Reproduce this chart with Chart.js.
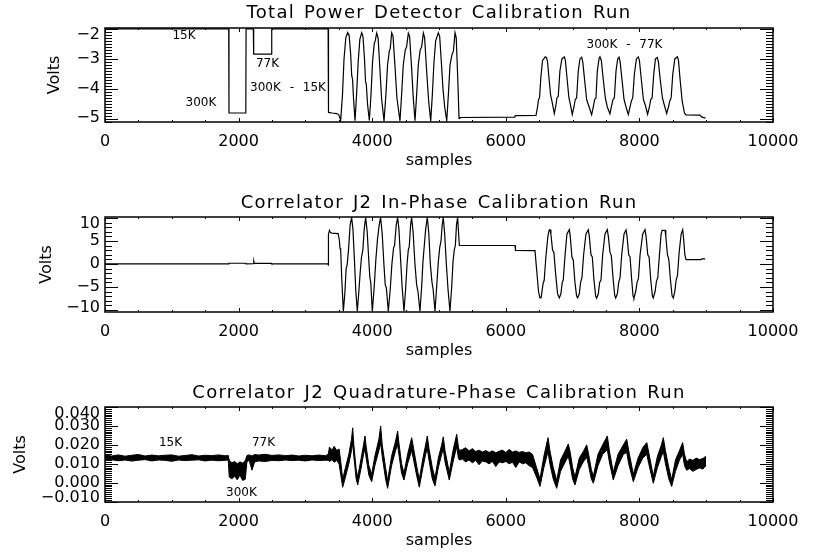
<!DOCTYPE html>
<html>
<head>
<meta charset="utf-8">
<script src="https://cdn.jsdelivr.net/npm/chart.js@4.4.1/dist/chart.umd.min.js"></script>
<style>
html, body { margin: 0; padding: 0; background: #fff; }
#wrap { position: relative; width: 816px; height: 556px; }
canvas { position: absolute; left: 0; }
</style>
</head>
<body>
<div id="wrap">
<canvas id="c1" width="816" height="185" style="top:0px"></canvas>
<canvas id="c2" width="816" height="187" style="top:185px"></canvas>
<canvas id="c3" width="816" height="184" style="top:372px"></canvas>
</div>
<script>
// Calibration run traces: [sample, volts]

var xTicks = [0, 2000, 4000, 6000, 8000, 10000];

// Total power detector
var totalPower = [
    [0, -2.0], [1852, -2.0], [1856, -4.8], [2108, -4.8], [2112, -2.0], [2220, -2.0], [2226, -2.84], [2490, -2.84], [2496, -2.0],
    [3340, -2.0], [3346, -4.78], [3400, -4.8], [3470, -4.82], [3500, -4.86], [3515, -4.95],
    [3528, -5.05], [3555, -4.2], [3578, -3.0], [3605, -2.3], [3633, -2.12], [3655, -2.22], [3678, -2.85], [3693, -3.55], [3706, -3.68], [3720, -4.3],
    [3743, -5.06], [3768, -4.1], [3790, -3.1], [3815, -2.35], [3843, -2.13], [3862, -2.25], [3885, -3.0], [3900, -3.75], [3912, -3.85], [3930, -4.5],
    [3957, -5.05], [3982, -4.2], [4005, -3.1], [4030, -2.5], [4045, -2.4], [4067, -2.14], [4088, -2.3], [4112, -3.2], [4140, -4.3],
    [4177, -5.07], [4205, -4.2], [4230, -3.2], [4255, -2.75], [4270, -2.65], [4292, -2.13], [4312, -2.25], [4340, -3.2], [4370, -4.3],
    [4416, -5.06], [4440, -4.2], [4465, -3.2], [4495, -2.7], [4515, -2.6], [4541, -2.14], [4560, -2.25], [4590, -3.3], [4615, -4.3],
    [4641, -5.06], [4665, -4.2], [4690, -3.2], [4718, -2.7], [4740, -2.6], [4766, -2.14], [4785, -2.3], [4812, -3.3], [4845, -4.4],
    [4876, -5.07], [4900, -4.2], [4925, -3.1], [4950, -2.4], [4990, -2.13], [5010, -2.25], [5035, -3.1], [5060, -4.0], [5085, -4.6],
    [5116, -5.06], [5140, -4.2], [5165, -3.2], [5195, -2.85], [5215, -2.75], [5240, -2.13], [5258, -2.3], [5280, -3.6], [5300, -4.98], [5312, -4.95],
    [6135, -4.94], [6142, -4.89], [6452, -4.88],
    [6475, -4.6], [6490, -4.35], [6505, -4.3], [6525, -3.6], [6550, -3.05], [6590, -2.93], [6610, -2.96], [6625, -3.1], [6645, -3.6], [6670, -4.2], [6690, -4.4],
    [6726, -4.82], [6750, -4.55], [6765, -4.3], [6785, -4.25], [6810, -3.4], [6840, -3.0], [6876, -2.93], [6892, -3.05], [6915, -3.6], [6945, -4.3], [6965, -4.5],
    [6995, -4.85], [7020, -4.6], [7040, -4.35], [7060, -4.3], [7085, -3.4], [7110, -3.0], [7136, -2.94], [7152, -3.1], [7180, -3.7], [7210, -4.35], [7240, -4.55],
    [7285, -4.86], [7310, -4.6], [7330, -4.35], [7350, -4.3], [7370, -3.4], [7395, -3.0], [7410, -2.93], [7430, -3.05], [7455, -3.6], [7490, -4.3], [7520, -4.6],
    [7559, -4.83], [7585, -4.55], [7605, -4.35], [7625, -4.3], [7650, -3.4], [7675, -3.0], [7695, -2.94], [7712, -3.1], [7740, -3.7], [7770, -4.35], [7800, -4.6],
    [7834, -4.85], [7860, -4.6], [7880, -4.4], [7900, -4.3], [7925, -3.5], [7955, -3.0], [7983, -2.93], [8000, -3.05], [8025, -3.6], [8060, -4.35], [8090, -4.55],
    [8123, -4.84], [8150, -4.6], [8170, -4.35], [8190, -4.3], [8215, -3.5], [8240, -3.0], [8268, -2.95], [8285, -3.1], [8310, -3.65], [8345, -4.3], [8375, -4.55],
    [8408, -4.82], [8435, -4.6], [8455, -4.4], [8475, -4.3], [8500, -3.5], [8530, -3.0], [8568, -2.93], [8585, -3.05], [8610, -3.7], [8640, -4.4], [8675, -4.8],
    [8697, -4.86], [8907, -4.87], [8930, -4.93], [8990, -4.97]
];
var tpTicks = [-2, -3, -4, -5];
var tpNotes = [['15K', 1183, -2.24], ['77K', 2433, -3.17], ['300K', 1437, -4.47], ['300K - 15K', 2740, -3.97], ['300K - 77K', 7777, -2.52]];

// Correlator J2 in-phase
var inPhase = [
    [0, 0], [1850, 0], [1856, 0.15], [2108, 0.15], [2112, 0], [2222, 0.05], [2228, 0.6], [2236, 0.1], [2490, 0.1], [2496, 0],
    [3340, 0], [3343, -0.4], [3347, 6.4], [3360, 7.3], [3372, 6.9], [3395, 6.7], [3490, 6.6], [3508, 5.2], [3518, 3.4], [3528, 3.1], [3545, -3.5],
    [3568, -10.3], [3590, -6.5], [3610, -1.0], [3625, -0.2], [3645, 3.0], [3670, 8.5], [3692, 10.1], [3712, 7.5], [3735, 0.5], [3755, -6.0],
    [3777, -10.3], [3800, -6.0], [3822, -1.5], [3840, 1.5], [3860, 3.0], [3880, 7.5], [3902, 10.1], [3925, 7.0], [3948, 1.0], [3965, -3.0], [3978, -4.0],
    [4002, -10.3], [4030, -5.0], [4055, 1.0], [4080, 5.5], [4105, 8.5], [4126, 10.1], [4150, 6.5], [4175, 0.0], [4195, -4.5], [4212, -5.2],
    [4241, -10.3], [4270, -5.5], [4295, 0.0], [4320, 3.5], [4335, 4.0], [4360, 8.5], [4381, 10.1], [4400, 7.5], [4425, 1.0], [4448, -5.0],
    [4476, -10.3], [4500, -5.5], [4522, 0.0], [4540, 3.0], [4555, 3.8], [4575, 8.5], [4590, 10.1], [4612, 7.0], [4640, 0.0], [4665, -4.5], [4685, -6.0],
    [4715, -10.3], [4740, -5.0], [4760, 0.5], [4780, 4.0], [4800, 7.5], [4825, 10.1], [4848, 6.5], [4870, 0.0], [4895, -4.0], [4912, -5.5],
    [4940, -10.3], [4965, -5.0], [4990, 0.5], [5010, 3.5], [5030, 5.0], [5048, 8.5], [5064, 10.1], [5085, 6.5], [5110, 0.0], [5135, -5.5],
    [5164, -10.3], [5190, -5.0], [5210, 0.5], [5228, 3.0], [5245, 4.0], [5262, 8.5], [5279, 10.1], [5292, 7.0], [5305, 4.0],
    [6138, 4.0], [6145, 2.95], [6437, 2.9],
    [6460, -1.0], [6490, -6.0], [6512, -7.4], [6530, -7.3], [6555, -4.5], [6575, -3.5], [6600, 1.5], [6630, 6.0], [6650, 7.4], [6662, 7.45], [6675, 6.5], [6700, 3.0], [6720, 2.5], [6745, -2.0], [6775, -6.5],
    [6801, -7.4], [6825, -6.5], [6845, -4.0], [6860, -3.5], [6885, 1.5], [6915, 6.5], [6951, 7.45], [6965, 6.0], [6990, 1.5], [7010, 0.8], [7035, -4.0], [7060, -7.0],
    [7076, -7.4], [7100, -6.5], [7120, -4.0], [7140, -3.0], [7165, 2.0], [7200, 6.5], [7235, 7.4], [7250, 6.0], [7275, 2.0], [7295, 1.5], [7320, -3.5], [7345, -7.0],
    [7360, -7.45], [7385, -6.5], [7405, -4.0], [7425, -3.5], [7450, 2.0], [7485, 6.5], [7520, 7.45], [7535, 6.0], [7560, 2.5], [7580, 1.8], [7605, -3.0], [7630, -6.8],
    [7645, -7.4], [7670, -6.5], [7690, -4.0], [7710, -3.0], [7735, 2.0], [7770, 6.5], [7800, 7.4], [7815, 6.0], [7840, 2.0], [7860, 1.5], [7885, -3.5], [7905, -7.0],
    [7919, -7.4], [7945, -6.0], [7965, -4.0], [7985, -3.2], [8010, 2.0], [8050, 6.5], [8084, 7.45], [8100, 6.0], [8125, 2.0], [8145, 1.5], [8170, -3.5], [8195, -7.0],
    [8208, -7.4], [8235, -6.0], [8255, -3.8], [8275, -3.0], [8300, 2.0], [8325, 6.5], [8340, 7.3], [8385, 7.3], [8395, 6.0], [8420, 2.0], [8440, 1.0], [8465, -3.5], [8490, -7.0],
    [8508, -7.4], [8530, -6.0], [8550, -3.5], [8570, -2.5], [8595, 2.5], [8625, 6.5], [8648, 7.45], [8662, 5.5], [8680, 2.0], [8698, 0.93],
    [8922, 0.93], [8935, 1.1], [8985, 1.1]
];
var ipTicks = [10, 5, 0, -5, -10];

// Correlator J2 quadrature: noisy trace, kept as [sample, upper edge, lower edge]
var quadBand = [
    [0, .0146, .0117], [100, .0141, .0121], [200, .0147, .0116], [300, .0140, .0120], [400, .0145, .0114], [500, .0149, .0119],
    [600, .0141, .0122], [700, .0146, .0115], [800, .0142, .0120], [900, .0145, .0118], [1000, .0147, .0113], [1100, .0140, .0120],
    [1200, .0144, .0117], [1300, .0148, .0119], [1400, .0141, .0121], [1500, .0145, .0115], [1600, .0143, .0119], [1700, .0147, .0116],
    [1800, .0142, .0118], [1845, .0144, .0120],
    [1860, .0118, .0030], [1900, .0105, .0020], [1940, .0112, .0035], [1980, .0100, .0015], [2020, .0110, .0040], [2060, .0104, .0012],
    [2100, .0116, .0018], [2125, .0144, .0112],
    [2160, .0147, .0118], [2200, .0141, .0066], [2240, .0149, .0110], [2300, .0146, .0115], [2400, .0150, .0112], [2500, .0144, .0118],
    [2600, .0147, .0116], [2700, .0143, .0120], [2800, .0146, .0117], [2900, .0141, .0119], [3000, .0145, .0115], [3100, .0142, .0120],
    [3200, .0146, .0117], [3300, .0143, .0119], [3343, .0150, .0118],
    [3360, .0188, .0112], [3400, .0172, .0122], [3430, .0192, .0108], [3470, .0170, .0118], [3505, .0178, .0098], [3530, .0110, .0040],
    [3558, .0018, -.0024], [3600, .0080, .0030], [3650, .0150, .0100], [3690, .0230, .0170], [3708, .0290, .0210], [3725, .0200, .0140], [3760, .0070, .0020],
    [3783, .0030, -.0012], [3830, .0120, .0070], [3870, .0200, .0150], [3892, .0247, .0180], [3910, .0190, .0130], [3950, .0090, .0040],
    [3992, .0045, .0005], [4040, .0140, .0090], [4100, .0230, .0170], [4127, .0300, .0210], [4150, .0200, .0140], [4200, .0080, .0020],
    [4231, .0010, -.0030], [4290, .0140, .0090], [4350, .0220, .0170], [4381, .0273, .0200], [4400, .0210, .0150], [4440, .0100, .0050],
    [4476, .0050, .0014], [4530, .0150, .0100], [4591, .0238, .0170], [4620, .0180, .0120], [4670, .0080, .0030],
    [4705, .0018, -.0024], [4760, .0130, .0080], [4800, .0200, .0150], [4825, .0247, .0180], [4850, .0180, .0120], [4900, .0080, .0020],
    [4940, .0025, -.0017], [4990, .0130, .0080], [5040, .0200, .0150], [5064, .0242, .0180], [5090, .0170, .0110],
    [5154, .0055, .0014], [5210, .0170, .0110], [5265, .0256, .0190], [5290, .0190, .0130], [5305, .0170, .0120],
    [5350, .0175, .0125], [5400, .0185, .0110], [5450, .0168, .0120], [5500, .0180, .0105], [5550, .0165, .0118], [5600, .0172, .0095],
    [5650, .0162, .0115], [5700, .0170, .0110], [5750, .0160, .0100], [5800, .0168, .0112], [5850, .0158, .0085], [5900, .0166, .0110],
    [5950, .0172, .0105], [6000, .0160, .0112], [6050, .0175, .0100], [6100, .0162, .0108], [6150, .0168, .0080], [6200, .0160, .0110],
    [6250, .0165, .0100], [6300, .0158, .0105], [6350, .0162, .0090], [6400, .0150, .0080], [6460, .0080, .0030],
    [6512, .0020, -.0020], [6570, .0140, .0080], [6632, .0238, .0165], [6660, .0170, .0100], [6710, .0080, .0020],
    [6762, .0012, -.0030], [6820, .0120, .0060], [6890, .0170, .0110], [6936, .0205, .0140], [6965, .0160, .0090], [7000, .0080, .0020],
    [7036, .0030, -.0012], [7100, .0130, .0070], [7160, .0165, .0110], [7211, .0200, .0135], [7240, .0150, .0090], [7280, .0070, .0020],
    [7311, .0035, -.0003], [7380, .0150, .0090], [7450, .0200, .0150], [7520, .0247, .0175], [7550, .0170, .0110],
    [7609, .0055, .0014], [7680, .0150, .0090], [7760, .0200, .0150], [7810, .0230, .0160], [7840, .0170, .0100],
    [7909, .0045, .0005], [7980, .0130, .0080], [8050, .0185, .0130], [8110, .0212, .0150], [8140, .0160, .0100],
    [8208, .0035, -.0003], [8270, .0140, .0080], [8330, .0200, .0140], [8358, .0238, .0165], [8390, .0170, .0100], [8440, .0080, .0020],
    [8483, .0015, -.0020], [8540, .0120, .0060], [8600, .0170, .0120], [8648, .0212, .0150], [8675, .0150, .0090],
    [8708, .0110, .0066], [8750, .0125, .0075], [8800, .0118, .0060], [8850, .0130, .0070], [8900, .0122, .0078], [8950, .0128, .0072],
    [8997, .0140, .0090]
];
var qTicks = [0.04, 0.03, 0.02, 0.01, 0, -0.01];
var qNotes = [['15K', 981, 0.0212], ['77K', 2373, 0.0212], ['300K', 2043, -0.0052]];

var FONT = '"DejaVu Sans", sans-serif';

function fmt(v, dec) {
    return (v < 0 ? '\u2212' : '') + Math.abs(v).toFixed(dec);
}

// IDL style box: inward ticks on all four sides, labels, title, annotations
var idlFrame = {
    id: 'idlFrame',
    afterDraw: function (chart, args, o) {
        var ctx = chart.ctx, a = chart.chartArea;
        var xs = chart.scales.x, ys = chart.scales.y;
        ctx.save();
        ctx.strokeStyle = '#000';
        ctx.lineWidth = 1;
        ctx.beginPath();
        for (var v = 0; v <= 10000; v += 500) {
            var len = v % 2000 === 0 ? 4 : 2;
            var px = Math.round(xs.getPixelForValue(v)) + 0.5;
            ctx.moveTo(px, a.bottom); ctx.lineTo(px, a.bottom - len);
            ctx.moveTo(px, a.top); ctx.lineTo(px, a.top + len);
        }
        var k0 = Math.ceil(ys.min / o.minor - 1e-6), k1 = Math.floor(ys.max / o.minor + 1e-6);
        for (var k = k0; k <= k1; k++) {
            var py = Math.round(ys.getPixelForValue(k * o.minor)) + 0.5;
            ctx.moveTo(a.left, py); ctx.lineTo(a.left + 7, py);
            ctx.moveTo(a.right, py); ctx.lineTo(a.right - 7, py);
        }
        o.ticks.forEach(function (t) {
            var py = Math.round(ys.getPixelForValue(t)) + 0.5;
            ctx.moveTo(a.left, py); ctx.lineTo(a.left + 13, py);
            ctx.moveTo(a.right, py); ctx.lineTo(a.right - 13, py);
        });
        ctx.stroke();
        ctx.lineWidth = 1.5;
        ctx.strokeRect(a.left, a.top, a.right - a.left, a.bottom - a.top);

        ctx.fillStyle = '#000';
        ctx.font = '16px ' + FONT;
        ctx.textAlign = 'right';
        ctx.textBaseline = 'middle';
        o.ticks.forEach(function (t) {
            var py = ys.getPixelForValue(t);
            py = Math.min(Math.max(py, a.top + 6.5), a.bottom - 4);
            ctx.fillText(fmt(t, o.dec), 100, py);
        });

        // y title
        ctx.save();
        ctx.translate(o.voltsX, (a.top + a.bottom) / 2);
        ctx.rotate(-Math.PI / 2);
        ctx.textAlign = 'center';
        ctx.fillText('Volts', 0, 0);
        ctx.restore();

        // plot title
        ctx.font = '18px ' + FONT;
        ctx.textAlign = 'center';
        ctx.textBaseline = 'alphabetic';
        ctx.letterSpacing = '1.3px';
        ctx.wordSpacing = '2px';
        ctx.fillText(o.title, (a.left + a.right) / 2, o.titleY);

        // notes at data positions
        ctx.font = '12px ' + FONT;
        ctx.letterSpacing = '0px';
        ctx.wordSpacing = '5px';
        ctx.textBaseline = 'middle';
        (o.notes || []).forEach(function (n) {
            ctx.fillText(n[0], xs.getPixelForValue(n[1]), ys.getPixelForValue(n[2]));
        });
        ctx.restore();
    }
};

function makeChart(id, datasets, yMin, yMax, zone, top, frame) {
    return new Chart(document.getElementById(id), {
        type: 'line',
        data: { datasets: datasets },
        options: {
            responsive: false,
            animation: false,
            devicePixelRatio: 1,
            layout: { padding: { left: 105, right: 43, top: top, bottom: 0 } },
            elements: { point: { radius: 0 }, line: { tension: 0 } },
            plugins: { legend: { display: false }, tooltip: { enabled: false }, idlFrame: frame },
            scales: {
                x: {
                    type: 'linear', min: 0, max: 10000,
                    afterBuildTicks: function (s) { s.ticks = xTicks.map(function (v) { return { value: v }; }); },
                    afterFit: function (s) { s.height = zone; },
                    grid: { display: false, drawTicks: false },
                    border: { display: false },
                    ticks: {
                        padding: 10, color: '#000', maxRotation: 0, autoSkip: false,
                        font: { family: FONT, size: 16 },
                        callback: function (v) { return String(v); }
                    },
                    title: {
                        display: true, text: 'samples', color: '#000',
                        font: { family: FONT, size: 16 },
                        padding: { top: 0, bottom: zone - 48 }
                    }
                },
                y: { display: false, min: yMin, max: yMax }
            }
        },
        plugins: [idlFrame]
    });
}

function lineSet(pts) {
    return {
        data: pts.map(function (p) { return { x: p[0], y: p[1] }; }),
        borderColor: '#000', borderWidth: 1.2, fill: false
    };
}

makeChart('c1', [lineSet(totalPower)], -5.1, -1.97, 63, 28, {
    title: 'Total Power Detector Calibration Run', titleY: 18.3, voltsX: 55,
    ticks: tpTicks, minor: 0.1, dec: 0, notes: tpNotes
});

makeChart('c2', [lineSet(inPhase)], -10.45, 10.2, 60, 32, {
    title: 'Correlator J2 In-Phase Calibration Run', titleY: 23.3, voltsX: 47,
    ticks: ipTicks, minor: 1, dec: 0
});

makeChart('c3', [
    {
        data: quadBand.map(function (p) { return { x: p[0], y: p[1] }; }),
        borderColor: '#000', borderWidth: 1, fill: false
    },
    {
        data: quadBand.map(function (p) { return { x: p[0], y: p[2] }; }),
        borderColor: '#000', borderWidth: 1, fill: '-1', backgroundColor: '#000'
    }
], -0.0102, 0.040, 54, 35, {
    title: 'Correlator J2 Quadrature-Phase Calibration Run', titleY: 26.3, voltsX: 21,
    ticks: qTicks, minor: 0.001, dec: 3, notes: qNotes
});
</script>
</body>
</html>
